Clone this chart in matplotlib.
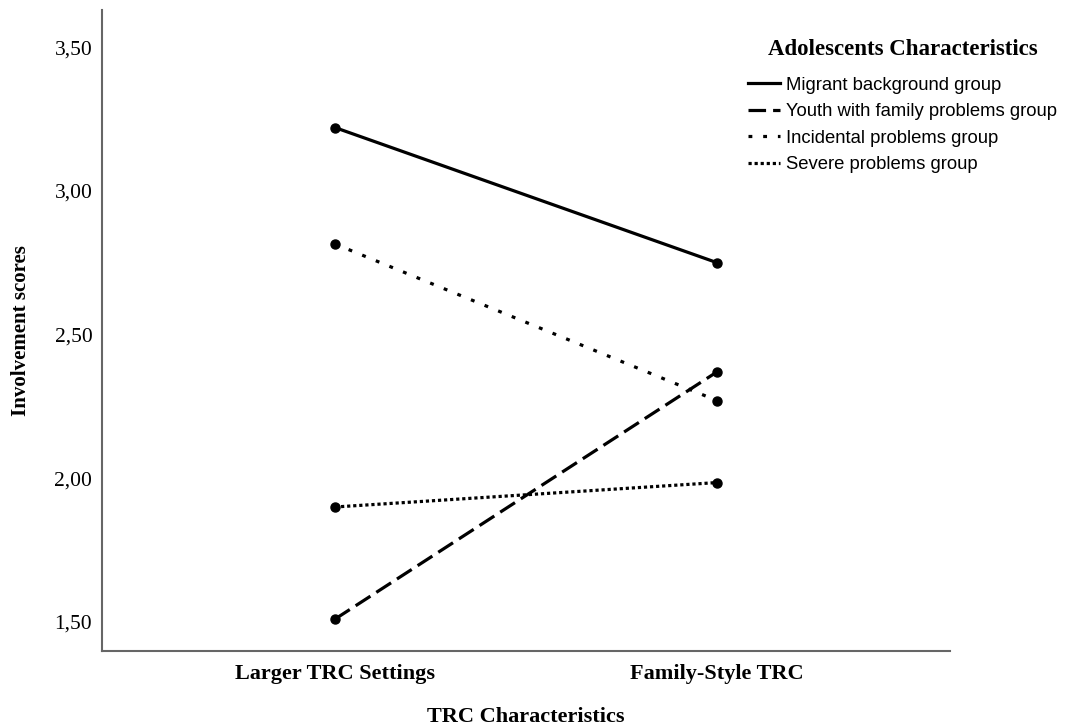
import matplotlib
matplotlib.use("Agg")
import matplotlib.pyplot as plt
from matplotlib.ticker import FixedLocator, FuncFormatter

categories = ["Larger TRC Settings", "Family-Style TRC"]
series_names = ["Migrant background group", "Youth with family problems group",
                "Incidental problems group", "Severe problems group"]
migrant = [3.22, 2.75]
youth = [1.51, 2.37]
incidental = [2.815, 2.27]
severe = [1.90, 1.985]
yticks = [1.5, 2.0, 2.5, 3.0, 3.5]

serif = "Liberation Serif"
sans = "Liberation Sans"

fig = plt.figure(figsize=(10.66, 7.26), dpi=100)
ax = fig.add_axes([102/1066, 1-651/726, (950-102)/1066, (651-10)/726])

x = list(range(len(categories)))
lw = 2.3
ms = 6.5
styles = [
    dict(linestyle="-"),
    dict(linestyle=(0, (5.5, 2.2))),
    dict(linestyle=(0, (1.2, 3.4))),
    dict(linestyle=(0, (1.0, 0.9))),
]
for vals, name, st in zip([migrant, youth, incidental, severe], series_names, styles):
    ax.plot(x, vals, color="black", lw=lw, marker="o", markersize=ms,
            dash_capstyle="butt", label=name, **st)

ax.set_xlim(-0.61, 1.61)
ax.set_ylim(1.399, 3.629)
ax.set_xticks(x)
ax.set_xticklabels(categories, fontfamily=serif, fontweight="bold", fontsize=16)
ax.yaxis.set_major_locator(FixedLocator(yticks))
ax.yaxis.set_major_formatter(FuncFormatter(lambda v, p: f"{v:.2f}".replace(".", ",")))
for lab in ax.get_yticklabels():
    lab.set_fontfamily(serif)
    lab.set_fontsize(15.5)
ax.tick_params(axis="y", length=0, pad=7)
ax.tick_params(axis="x", length=0, pad=9)

for s in ["top", "right"]:
    ax.spines[s].set_visible(False)
for s in ["left", "bottom"]:
    ax.spines[s].set_color("#666666")
    ax.spines[s].set_linewidth(1.5)

ax.set_ylabel("Involvement scores", fontfamily=serif, fontweight="bold", fontsize=15)
ax.yaxis.set_label_coords(-0.084, 0.5)
ax.set_xlabel("TRC Characteristics", fontfamily=serif, fontweight="bold", fontsize=16)
ax.xaxis.set_label_coords(0.5, -0.088)

leg = ax.legend(loc="upper left", bbox_to_anchor=(748/1066, 1-39/726),
                bbox_transform=fig.transFigure, frameon=False,
                prop={"family": sans, "size": 13.3},
                title="Adolescents Characteristics",
                title_fontproperties={"family": serif, "weight": "bold", "size": 16.5},
                handlelength=1.75, handletextpad=0.3, labelspacing=0.52,
                borderaxespad=0, borderpad=0, markerscale=0)
for h in leg.legend_handles:
    h.set_marker("")
leg._legend_box.align = "center"
leg._legend_box.sep = 12

fig.savefig("out.png", dpi=100)
